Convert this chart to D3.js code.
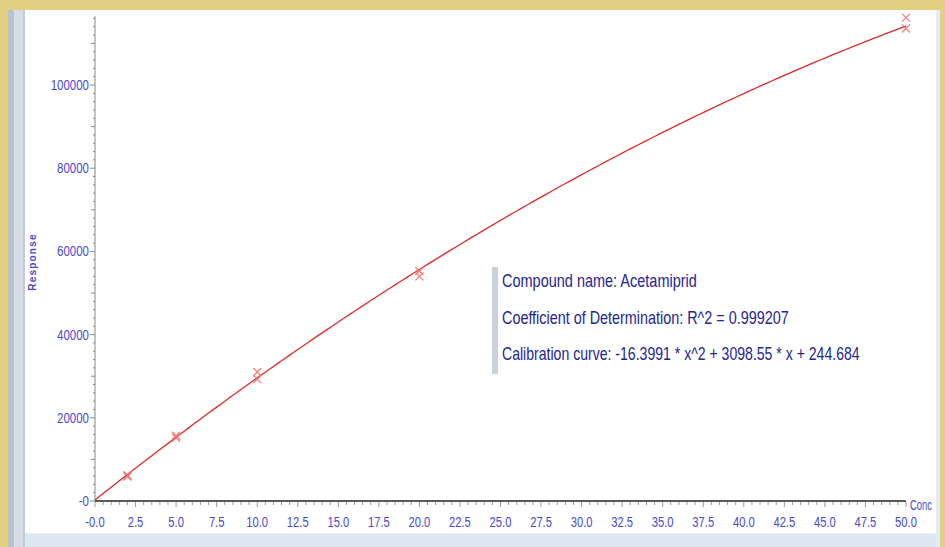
<!DOCTYPE html>
<html>
<head>
<meta charset="utf-8">
<script src="https://cdn.jsdelivr.net/npm/d3@7"></script>
<style>
  html, body { margin: 0; padding: 0; background: #e1cf82; }
  svg { display: block; }
  .lbl { font-family: "Liberation Sans Narrow", "Liberation Sans", Arial, sans-serif; }
</style>
</head>
<body>
<svg id="chart" width="945" height="547"></svg>
<script>
// Calibration standards (concentration, measured response, replicates)
const conc     = [2, 2, 5, 5, 10, 10, 20, 20, 50, 50];
const response = [6200, 5900, 15200, 15700, 29300, 31000, 54000, 55300, 113600, 116200];

// Quadratic fit coefficients
const coefA = -16.3991, coefB = 3098.55, coefC = 244.684;
const r2 = 0.999207;
const compound = "Acetamiprid";

// Axis ticks
const xTicks = d3.range(0, 50.01, 2.5);
const yTicks = [0, 20000, 40000, 60000, 80000, 100000];

const svg = d3.select("#chart");

// Window frame
svg.append("rect").attr("x", 8).attr("y", 10).attr("width", 932).attr("height", 537).attr("fill", "#ffffff");
svg.append("rect").attr("x", 8).attr("y", 10).attr("width", 6).attr("height", 537).attr("fill", "#b9c3cf");
svg.append("rect").attr("x", 14).attr("y", 10).attr("width", 9).attr("height", 537).attr("fill", "#d6dde6");
svg.append("rect").attr("x", 23).attr("y", 10).attr("width", 2).attr("height", 537).attr("fill", "#c3ccd8");
svg.append("rect").attr("x", 25).attr("y", 534).attr("width", 915).attr("height", 13).attr("fill", "#dde7f1");
svg.append("rect").attr("x", 25).attr("y", 533).attr("width", 915).attr("height", 1).attr("fill", "#e9eef4");
svg.append("rect").attr("x", 936).attr("y", 10).attr("width", 4).attr("height", 537).attr("fill", "#e6ecf3");

const x = d3.scaleLinear().domain([0, 50]).range([95, 906]);
const y = d3.scaleLinear().domain([0, 100000]).range([501, 85]);

const axisBlue = "#4a4acb";

// Condense a text horizontally by factor k around its anchor point
function condense(sel, k) {
  sel.each(function () {
    const t = d3.select(this);
    const ax = +t.attr("x"), ay = +t.attr("y");
    t.attr("x", 0).attr("y", 0)
     .attr("transform", `translate(${ax},${ay}) scale(${k},1)`);
  });
}
// Squeeze a text horizontally to a target width
function fitWidth(sel, target) {
  sel.each(function (d, i) {
    const w = this.getComputedTextLength();
    const tw = typeof target === "function" ? target(d, i) : target;
    d3.select(this).call(condense, Math.min(1, tw / w));
  });
}

// Y axis
const gy = svg.append("g").attr("transform", `translate(${x(0)},0)`);
gy.append("line").attr("x1", 0).attr("x2", 0).attr("y1", y(0)).attr("y2", y(116500))
  .attr("stroke", "#9a9a9a").attr("stroke-width", 1.2);
d3.range(0, 116001, 2000).forEach(v => {
  const major = v % 20000 === 0, mid = v % 10000 === 0;
  const len = major ? 5 : (mid ? 4 : 2);
  gy.append("line").attr("x1", -len).attr("x2", 0)
    .attr("y1", y(v)).attr("y2", y(v)).attr("stroke", "#8a8a8a").attr("stroke-width", 1);
});
gy.selectAll("text.yt").data(yTicks).join("text")
  .attr("class", "lbl yt")
  .attr("x", -6).attr("y", d => y(d) + 5)
  .attr("text-anchor", "end").attr("font-size", 14).attr("fill", axisBlue)
  .text(d => d === 0 ? "-0" : d)
  .call(condense, 0.82);

// X axis
const gx = svg.append("g").attr("transform", `translate(0,${y(0)})`);
gx.append("line").attr("x1", x(0)).attr("x2", x(50)).attr("y1", 0).attr("y2", 0)
  .attr("stroke", "#5a5a5a").attr("stroke-width", 2.2);
d3.range(0, 50.01, 0.5).forEach(v => {
  const major = Math.abs(v / 2.5 - Math.round(v / 2.5)) < 1e-6;
  gx.append("line").attr("x1", x(v)).attr("x2", x(v)).attr("y1", 1).attr("y2", major ? 6 : 4)
    .attr("stroke", "#9a9a9a").attr("stroke-width", 1);
});
gx.selectAll("text.xt").data(xTicks).join("text")
  .attr("class", "lbl xt")
  .attr("x", d => x(d)).attr("y", 26)
  .attr("text-anchor", "middle").attr("font-size", 14).attr("fill", axisBlue)
  .text(d => d === 0 ? "-0.0" : d.toFixed(1))
  .call(condense, 0.8);
gx.append("text").attr("class", "lbl")
  .attr("x", x(50) + 4).attr("y", 9)
  .attr("font-size", 15).attr("fill", axisBlue).text("Conc")
  .call(fitWidth, 22);

// Y axis title
svg.append("text")
  .attr("transform", `translate(36,262) rotate(-90)`)
  .attr("text-anchor", "middle")
  .attr("font-family", "Liberation Sans, Arial, sans-serif")
  .attr("font-size", 10).attr("font-weight", "bold").attr("letter-spacing", 1.2)
  .attr("fill", axisBlue).text("Response");

// Fitted calibration curve
const curveX = d3.range(0, 50.001, 0.25);
const line = d3.line().x(d => x(d)).y(d => y(coefA * d * d + coefB * d + coefC));
svg.append("path").datum(curveX).attr("d", line)
  .attr("fill", "none").attr("stroke", "#dd2a2a").attr("stroke-width", 1.3);

// Standard points as crosses
const pts = conc.map((c, i) => ({ c, r: response[i] }));
const s = 4;
const mk = svg.append("g").attr("stroke", "#f06a6a").attr("stroke-width", 1.3).attr("opacity", 0.85);
pts.forEach(p => {
  const cx = x(p.c), cy = y(p.r);
  mk.append("line").attr("x1", cx - s).attr("y1", cy - s).attr("x2", cx + s).attr("y2", cy + s);
  mk.append("line").attr("x1", cx - s).attr("y1", cy + s).attr("x2", cx + s).attr("y2", cy - s);
});

// Fit annotation
svg.append("rect").attr("x", 492).attr("y", 267).attr("width", 6).attr("height", 107).attr("fill", "#c9d1dc");
const notes = [
  `Compound name: ${compound}`,
  `Coefficient of Determination: R^2 = ${r2}`,
  `Calibration curve: ${coefA} * x^2 + ${coefB} * x + ${coefC}`
];
svg.selectAll("text.note").data(notes).join("text")
  .attr("class", "lbl note")
  .attr("x", 502).attr("y", (d, i) => 287 + i * 36.5)
  .attr("font-size", 18).attr("fill", "#262690")
  .text(d => d)
  .call(fitWidth, (d, i) => [195, 287, 358][i]);
</script>
</body>
</html>
